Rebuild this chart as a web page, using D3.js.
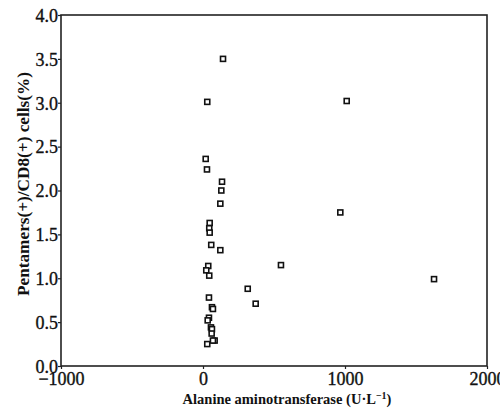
<!DOCTYPE html>
<html><head><meta charset="utf-8">
<script src="https://cdn.jsdelivr.net/npm/d3@7"></script>
<style>body{margin:0;background:#fff}svg{display:block}</style>
</head><body>
<svg id="c" width="500" height="412"></svg>
<script>
const altValues = [141, 30, 1012, 19, 28, 134, 129, 122, 967, 47, 44, 47, 58, 122, 549, 37, 23, 44, 1627, 315, 42, 371, 63, 70, 42, 33, 56, 63, 61, 82, 70, 30];
const pentValues = [3.50, 3.01, 3.02, 2.36, 2.24, 2.10, 2.00, 1.85, 1.75, 1.63, 1.57, 1.52, 1.38, 1.32, 1.15, 1.14, 1.09, 1.03, 0.99, 0.88, 0.78, 0.71, 0.67, 0.65, 0.55, 0.52, 0.44, 0.42, 0.37, 0.29, 0.29, 0.25];
const xTicks = [-1000, 0, 1000, 2000];
const yTicks = [0, 0.5, 1, 1.5, 2, 2.5, 3, 3.5, 4];
const xLabel = "Alanine aminotransferase (U\u00b7L";
const yLabel = "Pentamers(+)/CD8(+) cells(%)";

const svg = d3.select("#c");
const L = 61, R = 487, T = 15, B = 366;
const x = d3.scaleLinear().domain([-1000, 2000]).range([L, R]);
const y = d3.scaleLinear().domain([0, 4]).range([B, T]);
const font = "'Liberation Serif', 'DejaVu Serif', serif";

// box
svg.append("rect").attr("x", L).attr("y", T).attr("width", R - L).attr("height", B - T)
  .attr("fill", "none").attr("stroke", "#222").attr("stroke-width", 1.6);

const xa = svg.append("g").attr("transform", `translate(0,${B})`)
  .call(d3.axisBottom(x).tickValues(xTicks).tickFormat(d => d < 0 ? "\u2212" + Math.abs(d) : d).tickSize(3).tickPadding(2));
const ya = svg.append("g").attr("transform", `translate(${L},0)`)
  .call(d3.axisLeft(y).tickValues(yTicks).tickFormat(d3.format(".1f")).tickSize(3).tickPadding(0));
[xa, ya].forEach(a => {
  a.select(".domain").remove();
  a.selectAll("line").attr("stroke", "#222").attr("stroke-width", 1.2);
  a.selectAll("text").attr("fill", "#111").attr("stroke", "#111").attr("stroke-width", 0.35)
    .style("font-family", font).style("font-size", "18px");
});
ya.selectAll("text").attr("dy", "0.35em");
xa.selectAll("text").attr("dy", "0.75em");

// points
svg.append("g").selectAll("rect").data(altValues.map((v, i) => [v, pentValues[i]])).join("rect")
  .attr("x", d => x(d[0]) - 2.5).attr("y", d => y(d[1]) - 2.5)
  .attr("width", 5).attr("height", 5)
  .attr("fill", "#fff").attr("stroke", "#111").attr("stroke-width", 1.6);

// labels
const xl = svg.append("text").attr("x", 287).attr("y", 404).attr("text-anchor", "middle")
  .style("font-family", font).style("font-size", "14.5px").style("font-weight", "bold").attr("fill", "#111");
xl.append("tspan").text(xLabel);
xl.append("tspan").attr("dy", -5).style("font-size", "10px").text("\u22121");
xl.append("tspan").attr("dy", 5).text(")");

svg.append("text").attr("transform", "translate(29,184) rotate(-90)").attr("text-anchor", "middle")
  .attr("textLength", 224).attr("lengthAdjust", "spacingAndGlyphs")
  .style("font-family", font).style("font-size", "17px").style("font-weight", "bold").attr("fill", "#111")
  .text(yLabel);
</script>
</body></html>
